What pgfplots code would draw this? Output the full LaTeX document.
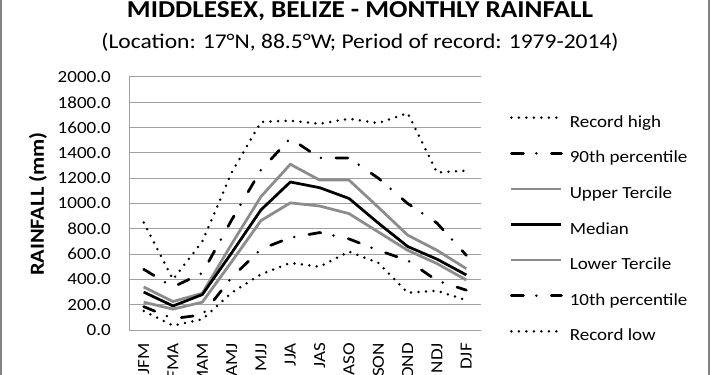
\documentclass[border=0pt]{standalone}
\usepackage{pgfplots}
\pgfplotsset{compat=1.18}
\usepackage{fontspec}
\setmainfont{Carlito}[FakeStretch=1.12]
\definecolor{tercile}{RGB}{140,140,140}
\definecolor{gridc}{RGB}{160,160,160}
\definecolor{framec}{RGB}{130,130,130}
\pgfplotsset{
  dotstyle/.style={black, line width=2.75bp, line cap=round, dash pattern=on 0bp off 7.5bp},
  ddstyle/.style={black, line width=2.75bp, line cap=round, dash pattern=on 12bp off 13bp on 0bp off 15bp},
  tercstyle/.style={tercile, line width=2.75bp},
  medstyle/.style={black, line width=2.75bp},
}
\begin{document}
\begin{tikzpicture}
\path[use as bounding box] (0,0) rectangle (710bp,375bp);
\clip (0,0) rectangle (710bp,375bp);
\fill[white] (0,0) rectangle (710bp,375bp);
\begin{axis}[
  at={(129bp,45bp)}, anchor=south west,
  scale only axis, width=352bp, height=253bp,
  xmin=-0.5, xmax=11.5, ymin=0, ymax=2000,
  xtick={0,...,11},
  xticklabels={JFM,FMA,MAM,AMJ,MJJ,JJA,JAS,ASO,SON,OND,NDJ,DJF},
  ytick={0,200,...,2000},
  axis x line=bottom, axis y line=left,
  axis line style={gridc, line width=1bp, -},
  major tick length=0pt,
  ymajorgrids, grid style={gridc, line width=1bp},
  /pgf/number format/assume math mode=true,
  tick label style={font=\fontsize{17bp}{20bp}\selectfont},
  yticklabel style={/pgf/number format/fixed, /pgf/number format/fixed zerofill, /pgf/number format/precision=1, /pgf/number format/1000 sep={}, inner sep=0pt, xshift=-18bp},
  xticklabel style={yshift=-13bp, rotate=90, anchor=east, inner sep=0pt},
  ylabel={RAINFALL (mm)},
  ylabel style={at={(axis description cs:-0.2585,0.498)}, anchor=center, font=\fontsize{20bp}{22bp}\selectfont\bfseries},
  legend style={at={(1.0824,0.849)}, anchor=north west, draw=none, fill=none, inner sep=0pt, outer sep=0pt, row sep=19.6bp, column sep=7bp, font=\fontsize{17bp}{20bp}\selectfont, nodes={inner sep=0pt, text height=12bp, text depth=4bp}},
  legend cell align=left,
  legend image code/.code={\draw[#1] (0bp,5.5bp) -- (50bp,5.5bp);},
]
\addplot[dotstyle] coordinates {(0,850) (1,400) (2,700) (3,1245) (4,1645) (5,1655) (6,1630) (7,1670) (8,1635) (9,1715) (10,1245) (11,1260)};
\addlegendentry{Record high}
\addplot[ddstyle] coordinates {(0,480) (1,340) (2,450) (3,870) (4,1265) (5,1515) (6,1360) (7,1360) (8,1200) (9,1000) (10,845) (11,590)};
\addlegendentry{90th percentile}
\addplot[tercstyle] coordinates {(0,340) (1,225) (2,290) (3,680) (4,1055) (5,1310) (6,1185) (7,1185) (8,970) (9,750) (10,630) (11,485)};
\addlegendentry{Upper Tercile}
\addplot[medstyle] coordinates {(0,300) (1,190) (2,280) (3,610) (4,950) (5,1170) (6,1125) (7,1040) (8,845) (9,660) (10,560) (11,435)};
\addlegendentry{Median}
\addplot[tercstyle] coordinates {(0,220) (1,165) (2,220) (3,540) (4,865) (5,1005) (6,980) (7,920) (8,775) (9,630) (10,525) (11,395)};
\addlegendentry{Lower Tercile}
\addplot[ddstyle] coordinates {(0,185) (1,90) (2,120) (3,415) (4,640) (5,730) (6,770) (7,720) (8,630) (9,550) (10,390) (11,315)};
\addlegendentry{10th percentile}
\addplot[dotstyle] coordinates {(0,150) (1,35) (2,85) (3,295) (4,440) (5,530) (6,500) (7,620) (8,530) (9,295) (10,310) (11,235)};
\addlegendentry{Record low}
\end{axis}
\node[anchor=base, font=\fontsize{24.3bp}{28bp}\selectfont\bfseries] at (360bp,357bp) {MIDDLESEX, BELIZE - MONTHLY RAINFALL};
\node[anchor=base, font=\fontsize{21bp}{24bp}\selectfont] at (360bp,326bp) {(Location: 17°N, 88.5°W; Period of record: 1979-2014)};
\draw[framec, line width=2bp] (1bp,0) -- (1bp,375bp);
\draw[framec, line width=2bp] (709bp,0) -- (709bp,375bp);
\end{tikzpicture}
\end{document}
